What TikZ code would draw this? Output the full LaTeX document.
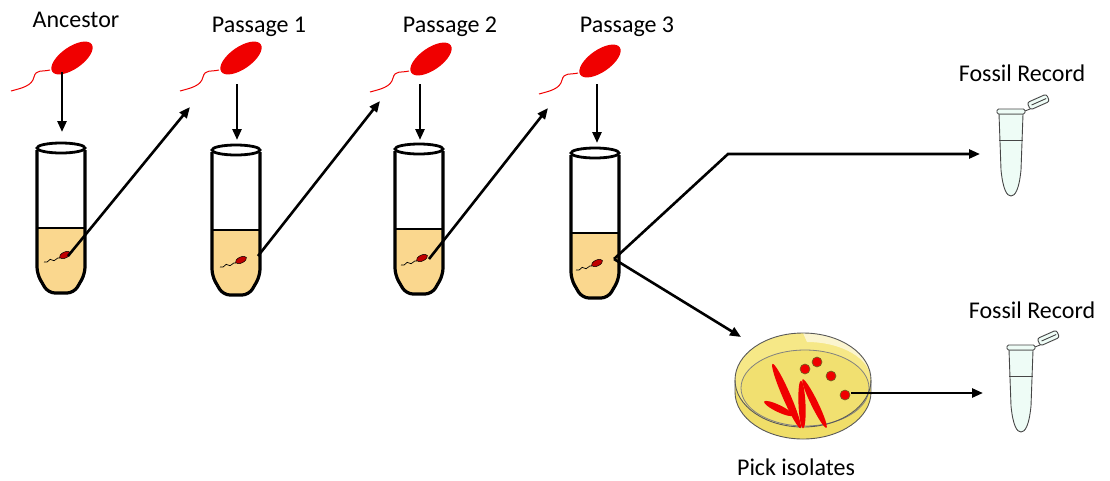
\documentclass[tikz,border=0pt]{standalone}
\usepackage{fontspec}
\setmainfont{Carlito}
\usetikzlibrary{arrows.meta}

\definecolor{broth}{RGB}{250,215,142}
\definecolor{agar}{RGB}{240,222,104}
\definecolor{agartop}{RGB}{246,232,135}
\definecolor{mint}{RGB}{238,252,246}
\definecolor{bugred}{RGB}{240,0,0}
\definecolor{vialgray}{RGB}{70,70,70}

\tikzset{
  arr/.style={line width=2.6pt, -{Triangle[length=11pt,width=9pt]}},
  lbl/.style={font=\fontsize{24}{29}\selectfont, anchor=base, inner sep=0pt},
  vialline/.style={vialgray, line width=0.9pt},
  microbe/.pic={
    \draw[bugred, line width=1pt] (-22,12) .. controls (-30,14) and (-36,11) .. (-38,19)
      .. controls (-40,28) and (-50,30) .. (-61,33);
    \fill[bugred, rotate=35] (0,0) ellipse (24 and 11);
  },
  cell/.pic={
    \draw[line width=0.7pt] (-5,3) .. controls (-8,1) and (-10,8) .. (-13,5)
      .. controls (-16,2) and (-16,9) .. (-21,7);
    \draw[fill=bugred!80!black, line width=0.5pt, rotate=25] (0,0) ellipse (6 and 3);
  },
  tube/.pic={
    \begin{scope}
      \clip[rounded corners=7pt] (-24,0) -- (-24,126) -- (-13,145) -- (13,145) -- (24,126) -- (24,0) -- cycle;
      \fill[broth] (-30,80) rectangle (30,150);
    \end{scope}
    \draw[line width=3.2pt, rounded corners=7pt] (-24,2) -- (-24,126) -- (-13,145) -- (13,145) -- (24,126) -- (24,2);
    \draw[line width=2.6pt] (-24,80) -- (24,80);
    \draw[line width=2.8pt, fill=white] (0,0) ellipse (24 and 5);
  },
  vial/.pic={
    \draw[vialline, fill=mint] (-12,2) -- (-10,58) .. controls (-8,78) and (-4,84) .. (0,84)
      .. controls (4,84) and (8,78) .. (10,58) -- (12,2) -- cycle;
    \draw[vialline] (-12,28) -- (12,28);
    \draw[vialline, fill=mint, rounded corners=1.5pt] (-14,-3) rectangle (14,2);
    \draw[vialline] (14,-1) -- (19,-3);
    \draw[vialline, fill=mint, rounded corners=2.5pt, rotate around={24:(19,-3)}] (19,-10) rectangle (40,-2);
    \draw[vialline, rotate around={24:(19,-3)}] (22,-6) -- (38,-6);
  },
  dish/.pic={
    \fill[agar] (0,12) ellipse (68 and 47);
    \fill[agar] (-68,0) rectangle (68,12);
    \fill[agartop] (0,0) ellipse (68 and 47);
    \fill[white, opacity=0.6] (0,-47) arc[start angle=270, end angle=360, x radius=68, y radius=47]
      arc[start angle=0, end angle=-90, x radius=64, y radius=38] -- cycle;
    \draw[gray, line width=0.8pt, fill=agar!95!white] (2,8) ellipse (64 and 38);
    \draw[gray!70!black, line width=0.9pt] (0,0) ellipse (68 and 47);
    \draw[gray!70!black, line width=0.9pt] (-68,0) -- (-68,12)
      arc[start angle=180, end angle=0, x radius=68, y radius=47] -- (68,0);
    % streak, tapered strokes
    \fill[bugred, rotate around={-66.5:(-16.5,16)}] (-16.5,16) ellipse (35 and 4);
    \fill[bugred, rotate around={-25.7:(-24.5,28.5)}] (-24.5,28.5) ellipse (16 and 3.5);
    \fill[bugred, rotate around={-87.5:(-1,24.5)}] (-1,24.5) ellipse (24 and 3.5);
    \fill[bugred, rotate around={-63.9:(11.5,23.5)}] (11.5,23.5) ellipse (27 and 3.5);
    % colonies
    \foreach \cx/\cy in {2/-11, 14/-18, 28/-4, 42/15}
      \draw[fill=bugred, draw=olive!70!black, line width=0.6pt] (\cx,\cy) circle (5);
  }
}

\begin{document}
\begin{tikzpicture}[x=1pt, y=-1pt]

\useasboundingbox (0,0) rectangle (1110,480);

\coordinate (anc) at (72,58);
\coordinate (p1) at (241,58);
\coordinate (p2) at (431,59);
\coordinate (p3) at (600,61);

\coordinate (ancA) at (62,72);
\coordinate (ancB) at (62,132);
\coordinate (p1A) at (237,84);
\coordinate (p1B) at (237,140);
\coordinate (p2A) at (420,84);
\coordinate (p2B) at (420,140);
\coordinate (p3A) at (597,84);
\coordinate (p3B) at (597,143);

\coordinate (s1) at (68,256);
\coordinate (s2) at (258,256);
\coordinate (s3) at (429,259);
\coordinate (s4) at (614,259);
\coordinate (e1) at (190,107);
\coordinate (e2) at (380,101);
\coordinate (e3) at (548,108);
\coordinate (bend) at (728,154);
\coordinate (fr1) at (980,154);
\coordinate (plate) at (741,337);
\coordinate (iso) at (851,393);
\coordinate (fr2) at (983,393);

\pic (t1) at (61,148) {tube};
\pic (t2) at (236,150) {tube};
\pic (t3) at (419,149) {tube};
\pic (t4) at (595,153) {tube};

\pic (c1) at (65,255) {cell};
\pic (c2) at (241,260) {cell};
\pic (c3) at (422,258) {cell};
\pic (c4) at (597,263) {cell};

\pic (b0) at (anc) {microbe};
\pic (b1) at (p1) {microbe};
\pic (b2) at (p2) {microbe};
\pic (b3) at (p3) {microbe};

\pic (pd) at (803,380) {dish};
\pic (v1) at (1011,112) {vial};
\pic (v2) at (1021,348) {vial};

\draw [arr] (ancA) -- (ancB);
\draw [arr] (p1A) -- (p1B);
\draw [arr] (p2A) -- (p2B);
\draw [arr] (p3A) -- (p3B);

\draw [arr] (s1) -- (e1);
\draw [arr] (s2) -- (e2);
\draw [arr] (s3) -- (e3);
\draw [arr] (s4) -- (bend) -- (fr1);
\draw [arr] (s4) -- (plate);
\draw [arr] (iso) -- (fr2);

\node [lbl] (lanc) at (76,27) {Ancestor};
\node [lbl] (lp1) at (259,32) {Passage 1};
\node [lbl] (lp2) at (450,32) {Passage 2};
\node [lbl] (lp3) at (627,32) {Passage 3};
\node [lbl] (lfr1) at (1022,81) {Fossil Record};
\node [lbl] (lfr2) at (1032,318) {Fossil Record};
\node [lbl] (lpick) at (796,475) {Pick isolates};

\end{tikzpicture}
\end{document}
